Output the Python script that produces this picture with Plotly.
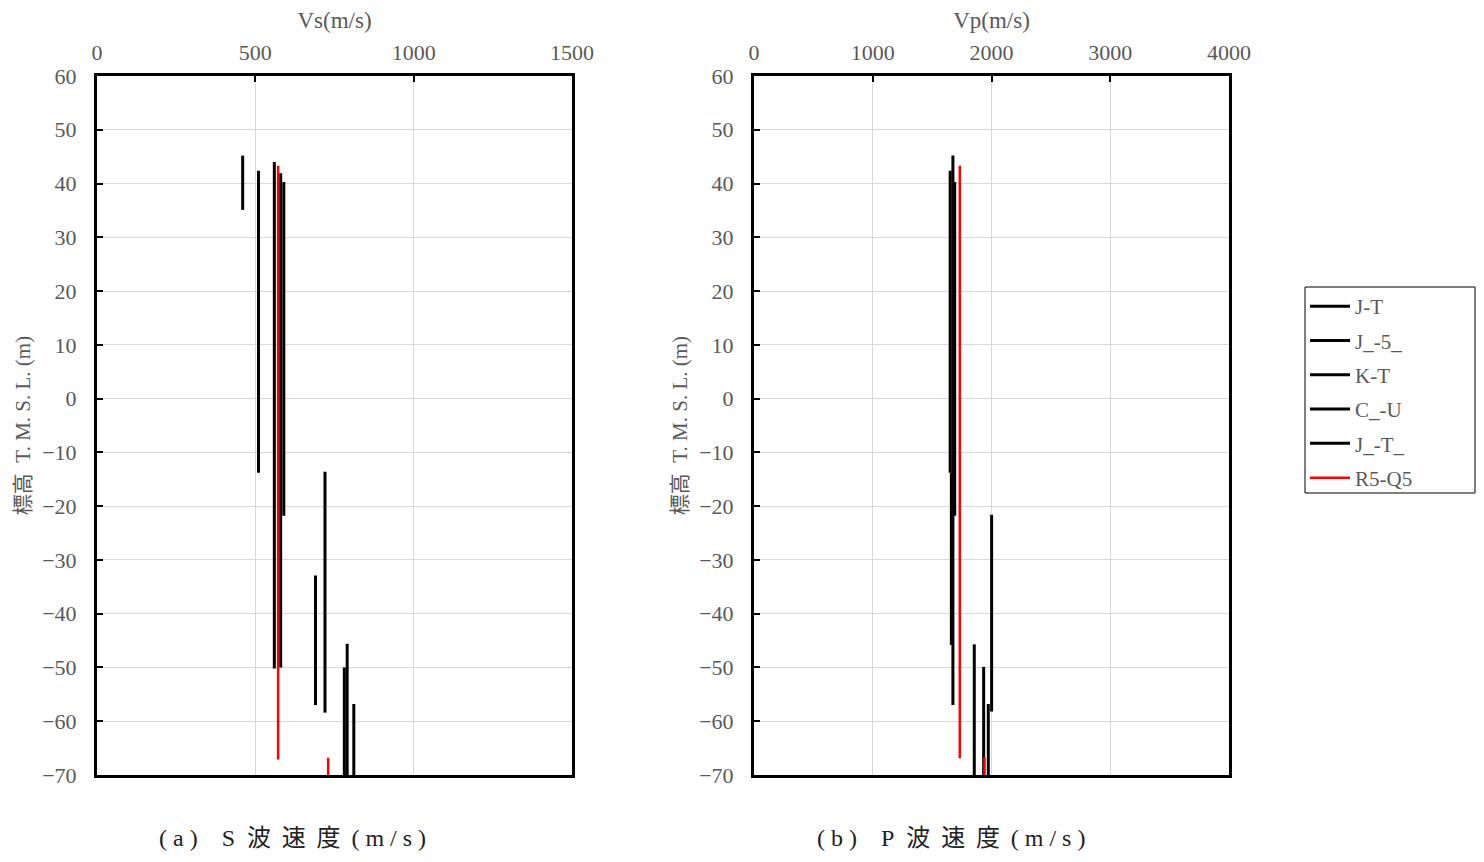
import plotly.graph_objects as go

series_names = ["J-T", "J_-5_", "K-T", "C_-U", "J_-T_", "R5-Q5"]
series_colors = ["#000000", "#000000", "#000000", "#000000", "#000000", "#FF0000"]

# S-wave velocity segments (velocity, top elevation, bottom elevation)
vs_vel = [[460, 690, 811], [510, 720], [560, 781], [580, 790], [590], [572, 730]]
vs_top = [[45.2, -32.9, -56.8], [42.4, -13.6], [44.0, -50.0], [41.9, -45.6], [40.3], [43.3, -66.8]]
vs_bot = [[35.1, -57.0, -70.0], [-13.8, -58.4], [-50.2, -70.0], [-50.0, -70.0], [-21.8], [-67.1, -70.0]]

# P-wave velocity segments
vp_vel = [[1675, 1973], [1652, 1662], [1934], [1855], [1690, 2001], [1733, 1941]]
vp_top = [[45.2, -56.8], [42.4, -13.8], [-49.9], [-45.7], [40.3, -21.6], [43.3, -66.7]]
vp_bot = [[-57.0, -70.0], [-13.8, -45.8], [-70.0], [-70.0], [-21.8, -58.2], [-66.9, -70.0]]

vs_ticks = [0, 500, 1000, 1500]
vp_ticks = [0, 1000, 2000, 3000, 4000]
y_ticks = [60, 50, 40, 30, 20, 10, 0, -10, -20, -30, -40, -50, -60, -70]

# page has an 8px body margin; figure fills the rest of the 1484x862 window
OFF = 8
FW, FH = 1484 - 2 * OFF, 862 - 2 * OFF
FONT = "Liberation Serif, Noto Sans CJK JP, serif"
GRAY = "#595959"


def px(x):
    return (x - OFF) / FW


def py(y):
    return 1 - (y - OFF) / FH


def segs(vel, top, bot):
    xs, ys = [], []
    for v, t, b in zip(vel, top, bot):
        xs += [v, v, None]
        ys += [t, b, None]
    return xs, ys


fig = go.Figure()
for i, name in enumerate(series_names):
    w = 3 if series_colors[i] == "#000000" else 2.5
    x, y = segs(vs_vel[i], vs_top[i], vs_bot[i])
    fig.add_trace(go.Scatter(x=x, y=y, mode="lines", name=name, legendgroup=name,
                             line=dict(color=series_colors[i], width=w),
                             xaxis="x", yaxis="y", showlegend=True, connectgaps=False))
    x, y = segs(vp_vel[i], vp_top[i], vp_bot[i])
    fig.add_trace(go.Scatter(x=x, y=y, mode="lines", name=name, legendgroup=name,
                             line=dict(color=series_colors[i], width=w),
                             xaxis="x2", yaxis="y2", showlegend=False, connectgaps=False))

left = [px(97), px(572)]
right = [px(754), px(1229)]
ydom = [py(775), py(76)]

common_x = dict(side="top", showline=True, linecolor="black", linewidth=3, mirror=True,
                showgrid=True, gridcolor="#d9d9d9", gridwidth=1, zeroline=False,
                ticks="inside", ticklen=6, tickwidth=2, tickcolor="black", automargin=False,
                tickfont=dict(family=FONT, size=22, color=GRAY), ticklabelstandoff=4,
                title_font=dict(family=FONT, size=23, color=GRAY), title_standoff=6)
common_y = dict(showline=True, linecolor="black", linewidth=3, mirror=True,
                showgrid=True, gridcolor="#d9d9d9", gridwidth=1, zeroline=False,
                ticks="inside", ticklen=6, tickwidth=2, tickcolor="black", automargin=False,
                tickvals=y_ticks, range=[-70, 60],
                tickfont=dict(family=FONT, size=22, color=GRAY),
                title_font=dict(family=FONT, size=21, color=GRAY), title_standoff=6,
                ticklabelstandoff=13)

cap_a = "( a )\u00a0\u00a0\u00a0\u00a0S\u00a0\u00a0波\u00a0\u2009速\u00a0\u2009度\u00a0\u2009( m / s )"
cap_b = "( b )\u00a0\u00a0\u00a0\u00a0P\u00a0\u00a0波\u00a0\u2009速\u00a0\u2009度\u00a0\u2009( m / s )"

fig.update_layout(
    width=FW, height=FH, autosize=False,
    margin=dict(l=0, r=0, t=0, b=0),
    paper_bgcolor="white", plot_bgcolor="white",
    font=dict(family=FONT, color=GRAY),
    xaxis=dict(domain=left, range=[0, 1500], tickvals=vs_ticks, anchor="y",
               title_text="Vs(m/s)", **common_x),
    yaxis=dict(domain=ydom, anchor="x", title_text="標高\u00a0\u00a0T. M. S. L. (m)", **common_y),
    xaxis2=dict(domain=right, range=[0, 4000], tickvals=vp_ticks, anchor="y2",
                title_text="Vp(m/s)", **common_x),
    yaxis2=dict(domain=ydom, anchor="x2", title_text="標高\u00a0\u00a0T. M. S. L. (m)", **common_y),
    legend=dict(x=px(1305), y=py(286), xanchor="left", yanchor="top",
                borderwidth=0, bgcolor="rgba(0,0,0,0)",
                font=dict(family=FONT, size=21, color=GRAY),
                tracegroupgap=4, itemwidth=40),
    shapes=[dict(type="rect", xref="paper", yref="paper",
                 x0=px(1305), x1=px(1475), y0=py(493), y1=py(287),
                 line=dict(color="black", width=1), fillcolor="rgba(0,0,0,0)")],
    annotations=[
        dict(text=cap_a, x=px(157), y=py(838), xref="paper", yref="paper",
             showarrow=False, font=dict(family=FONT, size=24, color="#222222"),
             xanchor="left", yanchor="middle"),
        dict(text=cap_b, x=px(815), y=py(838), xref="paper", yref="paper",
             showarrow=False, font=dict(family=FONT, size=24, color="#222222"),
             xanchor="left", yanchor="middle"),
    ],
)

fig.write_html("out.html")
